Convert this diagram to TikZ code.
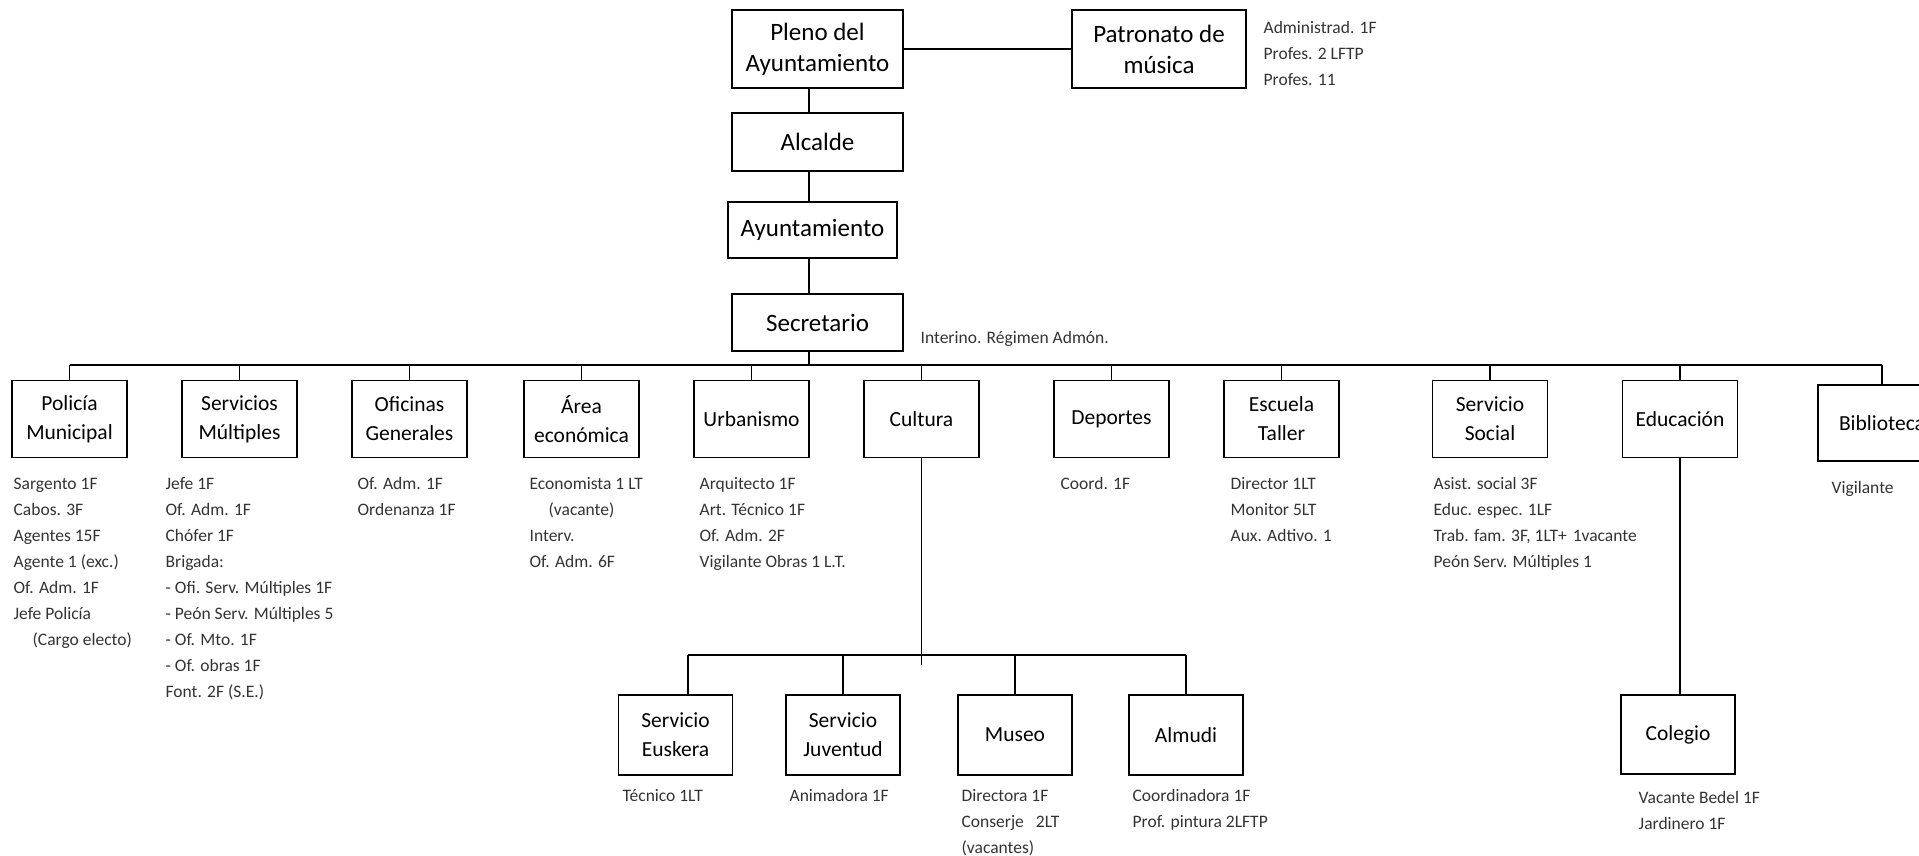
\documentclass[tikz,border=0pt]{standalone}
\usepackage{fontspec}
\setmainfont{Carlito}
\usepackage{xcolor}
\usetikzlibrary{positioning,calc}

\newcommand{\bigboxfont}{\fontsize{25}{31}\selectfont}
\newcommand{\boxfont}{\fontsize{21.5}{29}\selectfont}
\newcommand{\stafffont}{\fontsize{17.5}{26}\selectfont}

\begin{document}
\begin{tikzpicture}[
        x=1pt, y=-1pt,
        line width=1.3pt,
        % 部门方框 (Department box)
        unit/.style={
            rectangle, draw, line width=1.3pt,
            minimum width=115pt,
            minimum height=77pt,
            align=center,
            inner sep=0pt,
            font=\boxfont
        },
        % 上层方框 (Top box)
        topunit/.style={unit, font=\bigboxfont, minimum width=171pt},
        % 人员说明文字 (Staff list)
        staff/.style={
            anchor=north west, align=left, inner sep=0pt,
            font=\stafffont, text=black!80,
            execute at begin node=\strut
        }
    ]

        \useasboundingbox (0,0) rectangle (1919,855);
        \clip (0,0) rectangle (1919,855);

        % ====================
        % 上层 (Top chain)
        % ====================
        \node[topunit, minimum height=78pt] (pleno) at (817.5, 49) {Pleno del\\Ayuntamiento};
        \node[topunit, minimum width=174pt, minimum height=78pt] (patron) at (1159, 49) {Patronato de\\música};
        \node[staff] (patronS) at (1263, 21) {Administrad. 1F\\Profes. 2 LFTP\\Profes. 11};

        \node[topunit, minimum height=58pt] (alcalde) at (817.5, 142) {Alcalde};
        \node[topunit, minimum width=169pt, minimum height=56pt] (ayto) at (812.5, 230) {Ayuntamiento};
        \node[topunit, minimum height=57pt] (secre) at (817.5, 322.5) {Secretario};
        \node[staff] (secreS) at (920, 325) {Interino. Régimen Admón.};

        % ====================
        % 部门一排 (Department row)
        % ====================
        \node[unit] (polic) at (69.5, 419) {Policía\\Municipal};
        \node[unit] (servm) at (239.5, 419) {Servicios\\Múltiples};
        \node[unit] (ofic) at (409.5, 419) {Oficinas\\Generales};
        \node[unit] (area) at (581.5, 419) {Área\\económica};
        \node[unit] (urban) at (751.5, 419) {Urbanismo};
        \node[unit] (cult) at (921.5, 419) {Cultura};
        \node[unit] (depor) at (1111.5, 419) {Deportes};
        \node[unit] (escu) at (1281.5, 419) {Escuela\\Taller};
        \node[unit] (socl) at (1490, 419) {Servicio\\Social};
        \node[unit] (educ) at (1680, 419) {Educación};
        \node[unit, minimum width=128pt, minimum height=76pt] (biblio) at (1882, 423) {Biblioteca};

        % 人员 (Staff lists)
        \node[staff] (policS) at (13, 477) {Sargento 1F\\Cabos. 3F\\Agentes 15F\\Agente 1 (exc.)\\Of. Adm. 1F\\Jefe Policía\\\hspace*{19pt}(Cargo electo)};
        \node[staff] (servmS) at (165, 477) {Jefe 1F\\Of. Adm. 1F\\Chófer 1F\\Brigada:\\- Ofi. Serv. Múltiples 1F\\- Peón Serv. Múltiples 5\\- Of. Mto. 1F\\- Of. obras 1F\\Font. 2F (S.E.)};
        \node[staff] (oficS) at (357, 477) {Of. Adm. 1F\\Ordenanza 1F};
        \node[staff] (areaS) at (529, 477) {Economista 1 LT\\\hspace*{19pt}(vacante)\\Interv.\\Of. Adm. 6F};
        \node[staff] (urbanS) at (699, 477) {Arquitecto 1F\\Art. Técnico 1F\\Of. Adm. 2F\\Vigilante Obras 1 L.T.};
        \node[staff] (deporS) at (1060, 471) {Coord. 1F};
        \node[staff] (escuS) at (1230, 477) {Director 1LT\\Monitor 5LT\\Aux. Adtivo. 1};
        \node[staff] (soclS) at (1433, 477) {Asist. social 3F\\Educ. espec. 1LF\\Trab. fam. 3F, 1LT+\hspace{6pt}1vacante\\Peón Serv. Múltiples 1};
        \node[staff] (biblioS) at (1831, 475) {Vigilante};

        % ====================
        % 下层 (Lower boxes)
        % ====================
        \node[unit, minimum width=114pt, minimum height=80pt] (eusk) at (675.5, 735) {Servicio\\Euskera};
        \node[unit, minimum width=114pt, minimum height=80pt] (juven) at (843, 735) {Servicio\\Juventud};
        \node[unit, minimum width=114pt, minimum height=80pt] (museo) at (1015, 735) {Museo};
        \node[unit, minimum width=114pt, minimum height=80pt] (almudi) at (1186, 735) {Almudi};
        \node[unit, minimum width=114pt, minimum height=79pt] (coleg) at (1678, 734.5) {Colegio};

        \node[staff] (euskS) at (622, 783) {Técnico 1LT};
        \node[staff] (juvenS) at (789, 783) {Animadora 1F};
        \node[staff] (museoS) at (961, 789) {Directora 1F\\Conserje\hspace{12pt}2LT\\(vacantes)};
        \node[staff] (almudiS) at (1132, 789) {Coordinadora 1F\\Prof. pintura 2LFTP};
        \node[staff] (colegS) at (1638, 791) {Vacante Bedel 1F\\Jardinero 1F};

        % ====================
        % 连线 (Connections)
        % ====================
        \coordinate (spine) at (809, 0);
        \coordinate (bus) at (0, 365);
        \coordinate (subbus) at (0, 655);
        \coordinate (cultend) at (0, 665);
        \coordinate (euskdrop) at (688, 0);

        \draw (pleno) -- (patron);
        \draw (pleno.south -| spine) -- (alcalde.north -| spine);
        \draw (alcalde.south -| spine) -- (ayto.north -| spine);
        \draw (ayto.south -| spine) -- (secre.north -| spine);
        \draw (secre.south -| spine) -- (spine |- bus);

        % 总线 (Main bus)
        \draw (polic.north |- bus) -- (biblio.north |- bus);
        \foreach \n in {polic,servm,ofic,area,urban,cult,depor,escu,socl,educ,biblio}
            \draw (\n.north) -- (\n.north |- bus);

        % 文化下属 (Cultura branch)
        \draw (cult.south) -- (cult.south |- cultend);
        \draw (euskdrop |- subbus) -- (almudi.north |- subbus);
        \draw (eusk.north -| euskdrop) -- (euskdrop |- subbus);
        \foreach \n in {juven,museo,almudi}
            \draw (\n.north) -- (\n.north |- subbus);

        % 教育 (Educación)
        \draw (educ.south) -- (educ.south |- coleg.north);

    \end{tikzpicture}
\end{document}
